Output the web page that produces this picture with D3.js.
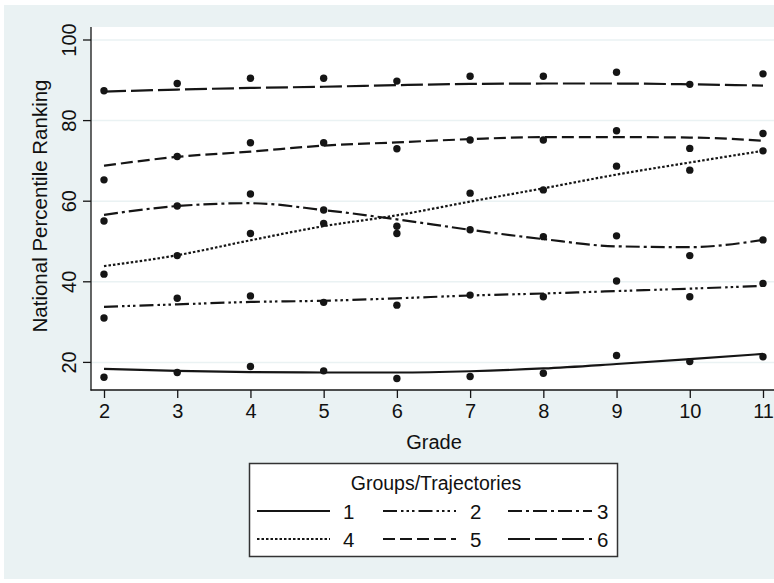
<!DOCTYPE html>
<html>
<head>
<meta charset="utf-8">
<script src="https://cdn.jsdelivr.net/npm/d3@7"></script>
<style>
    body { margin: 0; background: #fff; }
    text { font-family: Arial, "Liberation Sans", sans-serif; fill: #111; }
</style>
</head>
<body>
<svg id="chart" width="774" height="583"></svg>
<script>
let grades = [2, 3, 4, 5, 6, 7, 8, 9, 10, 11];
let yTicks = [20, 40, 60, 80, 100];
let groupNames = ["1", "2", "3", "4", "5", "6"];

// observed group means (dots)
let observed1 = [16.3, 17.5, 19.0, 17.9, 16.0, 16.5, 17.3, 21.7, 20.2, 21.4];
let observed2 = [31.0, 35.9, 36.5, 34.9, 34.2, 36.7, 36.3, 40.2, 36.3, 39.6];
let observed3 = [55.1, 58.8, 61.8, 57.8, 53.8, 52.9, 51.2, 51.4, 46.5, 50.4];
let observed4 = [41.9, 46.5, 52.0, 54.5, 52.0, 62.0, 62.8, 68.7, 67.7, 72.5];
let observed5 = [65.3, 71.1, 74.5, 74.5, 73.0, 75.2, 75.2, 77.5, 73.1, 76.8];
let observed6 = [87.4, 89.2, 90.5, 90.5, 89.8, 91.0, 91.0, 92.0, 89.0, 91.6];

// fitted trajectories (lines)
let fitted1 = [18.4, 17.9, 17.6, 17.5, 17.5, 17.8, 18.5, 19.6, 20.8, 22.1];
let fitted2 = [33.8, 34.4, 35.0, 35.3, 35.9, 36.6, 37.1, 37.7, 38.3, 39.0];
let fitted3 = [56.6, 58.8, 59.5, 57.8, 55.5, 52.9, 50.6, 48.8, 48.6, 50.4];
let fitted4 = [43.9, 46.6, 50.3, 53.8, 56.5, 59.9, 63.2, 66.6, 69.6, 72.5];
let fitted5 = [68.8, 71.0, 72.3, 73.8, 74.6, 75.4, 75.9, 75.9, 75.8, 75.0];
let fitted6 = [87.2, 87.7, 88.1, 88.4, 88.8, 89.1, 89.2, 89.2, 89.0, 88.7];

let observed = [observed1, observed2, observed3, observed4, observed5, observed6];
let fitted = [fitted1, fitted2, fitted3, fitted4, fitted5, fitted6];

// stata-like line patterns: solid, longdash_3dot, longdash_dot, dot, dash, longdash
let dashes = ["none", "14,4,2.5,3,2.5,3,2.5,4", "14,4,3,4", "2.5,2", "12,5", "22,5"];

const BG = "#eaf2f3";
const INK = "#151515";

let svg = d3.select("#chart");

// outer background and plot region
svg.append("rect").attr("x", 4).attr("y", 5).attr("width", 770).attr("height", 574).attr("fill", BG);
svg.append("rect").attr("x", 91).attr("y", 27).attr("width", 683).attr("height", 363).attr("fill", "#fff");

let x = d3.scaleLinear().domain([2, 11]).range([104, 763]);
let y = d3.scaleLinear().domain([20, 100]).range([362.4, 40]);

// gridlines
svg.append("g").selectAll("line")
    .data(yTicks)
    .join("line")
    .attr("x1", 91).attr("x2", 774)
    .attr("y1", d => y(d)).attr("y2", d => y(d))
    .attr("stroke", BG).attr("stroke-width", 1.5);

// axes
let yAxis = svg.append("g")
    .attr("transform", "translate(91,0)")
    .call(d3.axisLeft(y).tickValues(yTicks).tickSize(8).tickPadding(0));
yAxis.select(".domain").remove();
yAxis.selectAll("line").attr("stroke", INK).attr("stroke-width", 1.3);
yAxis.selectAll("text")
    .attr("font-size", 20)
    .attr("text-anchor", "middle")
    .attr("transform", d => "translate(-15," + y(d) + ") rotate(-90)")
    .attr("x", 0).attr("y", 0).attr("dy", "0")
    .attr("fill", INK);
yAxis.selectAll(".tick").attr("transform", "translate(0,0)");
yAxis.selectAll(".tick line").attr("y1", d => y(d)).attr("y2", d => y(d));

let xAxis = svg.append("g")
    .attr("transform", "translate(0,390)")
    .call(d3.axisBottom(x).tickValues(grades).tickSize(8).tickPadding(6).tickFormat(d3.format("d")));
xAxis.select(".domain").remove();
xAxis.selectAll("line").attr("stroke", INK).attr("stroke-width", 1.3);
xAxis.selectAll("text").attr("font-size", 20).attr("fill", INK);

svg.append("line").attr("x1", 91).attr("x2", 91).attr("y1", 27).attr("y2", 390.5)
    .attr("stroke", INK).attr("stroke-width", 1.3);
svg.append("line").attr("x1", 90.5).attr("x2", 774).attr("y1", 390).attr("y2", 390)
    .attr("stroke", INK).attr("stroke-width", 1.3);

// axis titles
svg.append("text")
    .attr("transform", "translate(47,206) rotate(-90)")
    .attr("text-anchor", "middle")
    .attr("font-size", 20.5)
    .text("National Percentile Ranking");
svg.append("text")
    .attr("x", 434).attr("y", 449)
    .attr("text-anchor", "middle")
    .attr("font-size", 20)
    .text("Grade");

// trajectories
let line = d3.line()
    .x((d, i) => x(grades[i]))
    .y(d => y(d))
    .curve(d3.curveMonotoneX);

svg.append("g").selectAll("path")
    .data(fitted)
    .join("path")
    .attr("d", d => line(d))
    .attr("fill", "none")
    .attr("stroke", INK)
    .attr("stroke-width", 2.2)
    .attr("stroke-dasharray", (d, i) => dashes[i]);

// observed means
let dots = [];
observed.forEach((s, k) => {
    s.forEach((v, i) => dots.push({ g: grades[i], v: v, k: k }));
});
svg.append("g").selectAll("circle")
    .data(dots)
    .join("circle")
    .attr("cx", d => x(d.g))
    .attr("cy", d => y(d.v))
    .attr("r", 3.7)
    .attr("fill", INK);

// legend
let legend = svg.append("g");
legend.append("rect")
    .attr("x", 249.5).attr("y", 463.5).attr("width", 368).attr("height", 93)
    .attr("fill", "#fff").attr("stroke", "#333").attr("stroke-width", 1.5);
legend.append("text")
    .attr("x", 436).attr("y", 490)
    .attr("text-anchor", "middle")
    .attr("font-size", 19.5)
    .text("Groups/Trajectories");

let colSample = [[257, 330], [383, 456], [508, 592]];
let colLabel = [343, 470, 597];
let rowY = [511, 539];

let items = legend.selectAll("g.item")
    .data(groupNames)
    .join("g")
    .attr("class", "item");
items.append("line")
    .attr("x1", (d, i) => colSample[i % 3][0])
    .attr("x2", (d, i) => colSample[i % 3][1])
    .attr("y1", (d, i) => rowY[Math.floor(i / 3)])
    .attr("y2", (d, i) => rowY[Math.floor(i / 3)])
    .attr("stroke", INK)
    .attr("stroke-width", 2.2)
    .attr("stroke-dasharray", (d, i) => dashes[i]);
items.append("text")
    .attr("x", (d, i) => colLabel[i % 3])
    .attr("y", (d, i) => rowY[Math.floor(i / 3)] + 7.5)
    .attr("font-size", 20.5)
    .text(d => d);
</script>
</body>
</html>
